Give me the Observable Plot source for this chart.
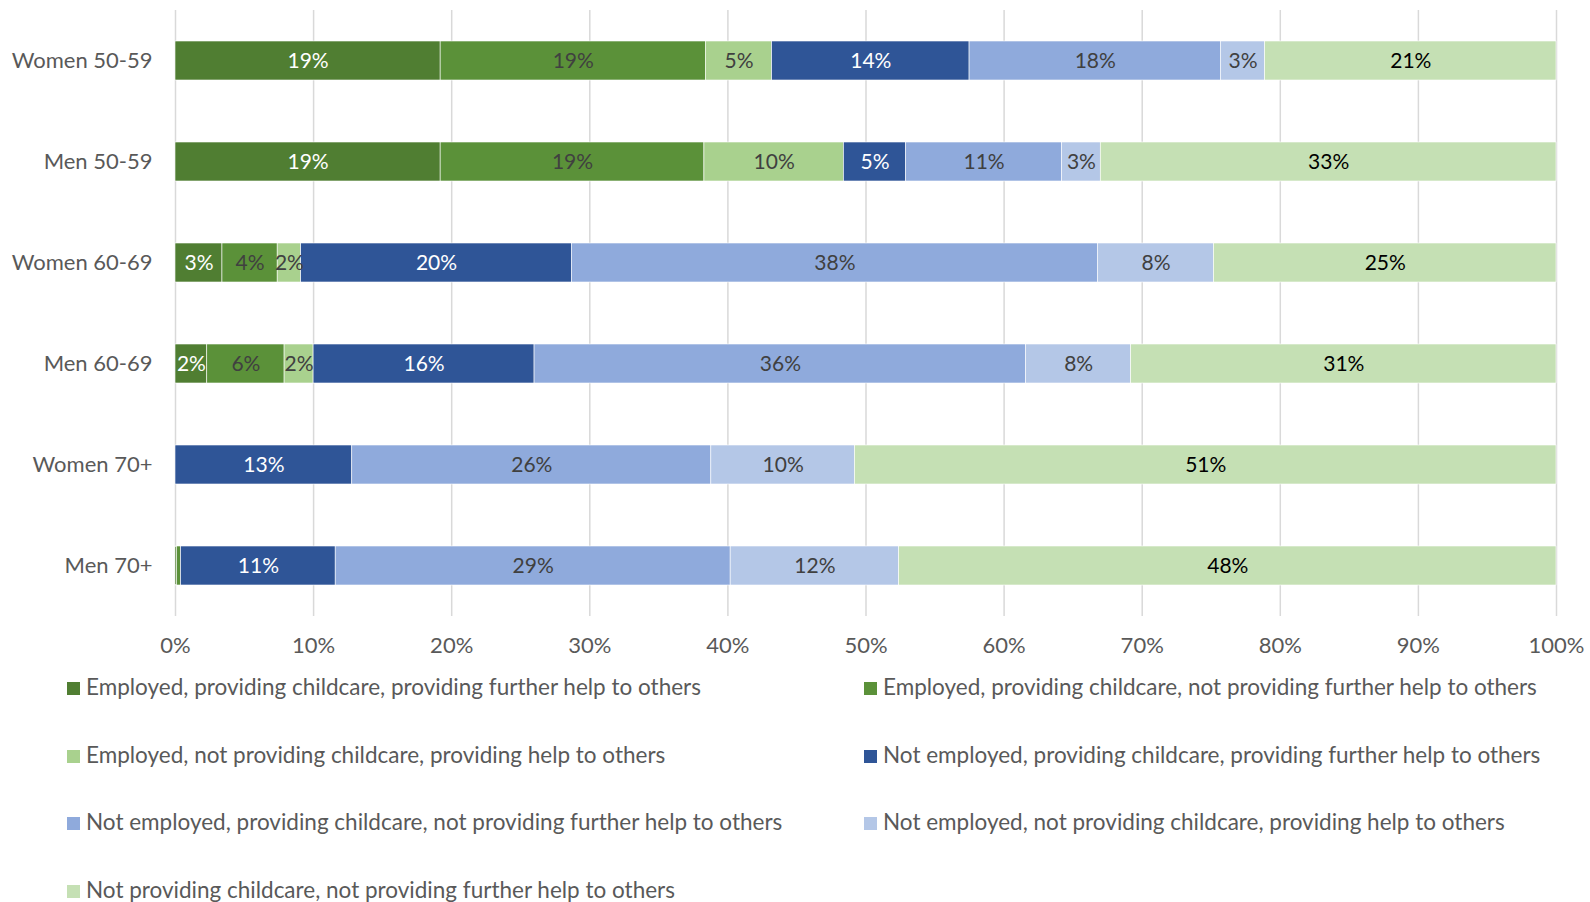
<!DOCTYPE html>
<html>
<head>
<meta charset="utf-8">
<script src="https://cdn.jsdelivr.net/npm/d3@7"></script>
<script src="https://cdn.jsdelivr.net/npm/@observablehq/plot@0.6"></script>
<style>
  html, body { margin: 0; padding: 0; background: #fff; }
  body { width: 1590px; height: 902px; overflow: hidden; font-family: Lato, "Open Sans", sans-serif; }
  #legend { display: grid; grid-template-columns: 797px 720px; padding-left: 67px; margin-top: 1px; }
  .item { height: 67.6px; display: flex; align-items: flex-start; font-size: 22.5px; color: #595959; line-height: 26px; white-space: nowrap; }
  .sw { width: 13px; height: 13px; margin-top: 8px; margin-right: 6px; flex: none; }
</style>
</head>
<body>
<div id="chart"></div>
<div id="legend"></div>
<script>
const categories = ["Women 50-59", "Men 50-59", "Women 60-69", "Men 60-69", "Women 70+", "Men 70+"];
const seriesNames = [
  "Employed, providing childcare, providing further help to others",
  "Employed, providing childcare, not providing further help to others",
  "Employed, not providing childcare, providing help to others",
  "Not employed, providing childcare, providing further help to others",
  "Not employed, providing childcare, not providing further help to others",
  "Not employed, not providing childcare, providing help to others",
  "Not providing childcare, not providing further help to others"
];
const seriesColors = ["#507E32", "#5B9139", "#A9D18E", "#2F5597", "#8FAADC", "#B4C7E7", "#C5E0B4"];
const labelColors = ["#FFFFFF", "#404040", "#404040", "#FFFFFF", "#404040", "#404040", "#000000"];

// values in % per category (same order as categories)
const empChildHelp     = [19.2, 19.2, 3.4, 2.3, 0, 0.1];
const empChildNoHelp   = [19.2, 19.1, 4.0, 5.6, 0, 0.3];
const empNoChildHelp   = [4.8, 10.1, 1.7, 2.1, 0, 0];
const notEmpChildHelp  = [14.3, 4.5, 19.6, 16.0, 12.8, 11.2];
const notEmpChildNoHelp= [18.2, 11.3, 38.1, 35.6, 26.0, 28.6];
const notEmpNoChildHelp= [3.2, 2.8, 8.4, 7.6, 10.4, 12.2];
const noChildNoHelp    = [21.1, 33.0, 24.8, 30.8, 50.8, 47.6];
const xTicks = [0, 10, 20, 30, 40, 50, 60, 70, 80, 90, 100];

const seriesValues = [empChildHelp, empChildNoHelp, empNoChildHelp, notEmpChildHelp, notEmpChildNoHelp, notEmpNoChildHelp, noChildNoHelp];
const data = [];
seriesValues.forEach((vals, i) => {
  vals.forEach((v, j) => data.push({category: categories[j], series: seriesNames[i], si: i, value: v}));
});

const font = "Lato, 'Open Sans', sans-serif";
const labelMark = (color) => Plot.text(data, Plot.stackX({
  x: "value", y: "category", z: "series", order: seriesNames,
  text: d => (labelColors[d.si] === color && d.value >= 1) ? Math.round(d.value) + "%" : "",
  fill: color, fontSize: 21, fontFamily: font
}));

const chart = Plot.plot({
  width: 1590,
  height: 673,
  marginLeft: 175,
  marginRight: 34,
  marginTop: 10,
  marginBottom: 57,
  style: {fontFamily: font, fontSize: "22px", color: "#595959", background: "#fff"},
  x: {domain: [0, 100], ticks: xTicks, tickFormat: d => d + "%", label: null, tickSize: 0, tickPadding: 21},
  y: {domain: categories, label: null, tickSize: 0, tickPadding: 23, paddingInner: 0.61, paddingOuter: 0.3},
  color: {domain: seriesNames, range: seriesColors},
  marks: [
    Plot.ruleX(xTicks, {stroke: "#D9D9D9", strokeWidth: 1.5}),
    Plot.barX(data, {x: "value", y: "category", fill: "series", order: seriesNames, stroke: "#fff", strokeWidth: 0.6}),
    labelMark("#FFFFFF"),
    labelMark("#404040"),
    labelMark("#000000")
  ]
});
document.getElementById("chart").appendChild(chart);

const legend = document.getElementById("legend");
seriesNames.forEach((name, i) => {
  const item = document.createElement("div");
  item.className = "item";
  const sw = document.createElement("span");
  sw.className = "sw";
  sw.style.background = seriesColors[i];
  const t = document.createElement("span");
  t.textContent = name;
  item.appendChild(sw);
  item.appendChild(t);
  legend.appendChild(item);
});
</script>
</body>
</html>
